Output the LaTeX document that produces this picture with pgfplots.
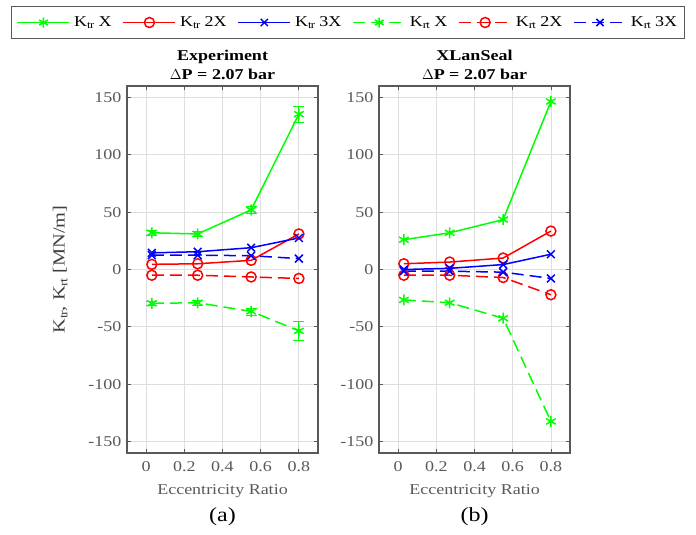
\documentclass[border=0pt]{standalone}
\usepackage{fontspec}
\setmainfont{Liberation Serif}[FakeStretch=1.2]
\usepackage{pgfplots}
\pgfplotsset{compat=1.18}
\definecolor{axgray}{gray}{0.35}
\definecolor{gridgray}{gray}{0.87}
\definecolor{mgreen}{rgb}{0,1,0}
\definecolor{mred}{rgb}{1,0,0}
\definecolor{mblue}{rgb}{0,0,1}
\pgfplotsset{
  mystyle/.style={
    scale only axis, width=191pt, height=367pt,
    xmin=-0.1, xmax=0.9, ymin=-160, ymax=160,
    xtick={0,0.2,0.4,0.6,0.8}, ytick={-150,-100,-50,0,50,100,150},
    grid=major, major grid style={gridgray, line width=0.8pt},
    axis line style={axgray, line width=1.3pt},
    tick style={axgray, line width=0.8pt}, tick align=inside, major tick length=4pt,
    /pgf/number format/assume math mode=true,
    ticklabel style={font=\fontsize{15}{17}\selectfont, text=axgray},
    xticklabel style={/pgf/number format/fixed, /pgf/number format/precision=1, yshift=-5pt},
    yticklabel style={xshift=-2pt},
    xlabel={Eccentricity Ratio},
    xlabel style={font=\fontsize{15}{17}\selectfont, text=axgray, at={(axis description cs:0.5,0)}, anchor=center, yshift=-38pt},
    title style={font=\bfseries\fontsize{15}{19}\selectfont, align=center, at={(axis description cs:0.5,1)}, anchor=south, inner sep=0pt, yshift=0pt},
    every axis plot/.append style={line width=1.5pt},
  },
  ktrX/.style={mgreen, solid, mark=asterisk, mark size=5.5pt, mark options={solid}},
  ktrB/.style={mred, solid, mark=o, mark size=5pt, mark options={solid}},
  ktrC/.style={mblue, solid, mark=x, mark size=5.5pt, mark options={solid}},
  krtX/.style={mgreen, dash pattern=on 12pt off 6pt, mark=asterisk, mark size=5.5pt, mark options={solid}},
  krtB/.style={mred, dash pattern=on 12pt off 6pt, mark=o, mark size=5pt, mark options={solid}},
  krtC/.style={mblue, dash pattern=on 12pt off 6pt, mark=x, mark size=5.5pt, mark options={solid}},
}
\begin{document}
\begin{tikzpicture}
\path[use as bounding box] (0pt,0pt) rectangle (696pt,535pt);
\begin{axis}[mystyle, name=ax1, at={(127pt,82pt)}, anchor=south west,
  title={Experiment\\$\Delta$P = 2.07 bar},
  ylabel={K$_\mathrm{tr}$, K$_\mathrm{rt}$ [MN/m]},
  ylabel style={font=\fontsize{17}{19}\selectfont, text=black!75, at={(axis description cs:-0.35,0.5)}, anchor=center},
  legend columns=6,
  legend style={at={(1.157,1.173)}, anchor=center, draw=axgray, line width=1.3pt,
    font=\fontsize{15}{17}\selectfont, inner xsep=5pt, inner ysep=8pt,
    /tikz/every odd column/.append style={column sep=2pt},
    /tikz/every even column/.append style={column sep=9pt}},
  legend image code/.code={\draw[mark repeat=2,mark phase=2] plot coordinates {(0pt,0pt) (26pt,0pt) (52pt,0pt)};},
  legend image post style={mark size=5pt},
]
\addplot[ktrX, error bars/.cd, y dir=both, y explicit, error bar style={solid, line width=1pt}] coordinates {(0.03,32) +- (0,2) (0.27,31) +- (0,2) (0.55,52) +- (0,3) (0.8,135.5) +- (0,7)};
\addlegendentry{K$_\mathrm{tr}$ X}
\addplot[ktrB] coordinates {(0.03,4.5) (0.27,5) (0.55,8) (0.8,31)};
\addlegendentry{K$_\mathrm{tr}$ 2X}
\addplot[ktrC] coordinates {(0.03,14.5) (0.27,15.5) (0.55,19) (0.8,27.5)};
\addlegendentry{K$_\mathrm{tr}$ 3X}
\addplot[krtX, error bars/.cd, y dir=both, y explicit, error bar style={solid, line width=1pt}] coordinates {(0.03,-29.5) +- (0,2) (0.27,-29) +- (0,2) (0.55,-36.5) +- (0,3) (0.8,-53.5) +- (0,8)};
\addlegendentry{K$_\mathrm{rt}$ X}
\addplot[krtB] coordinates {(0.03,-5) (0.27,-5) (0.55,-6.5) (0.8,-7.8)};
\addlegendentry{K$_\mathrm{rt}$ 2X}
\addplot[krtC] coordinates {(0.03,12.5) (0.27,12.5) (0.55,12) (0.8,9.5)};
\addlegendentry{K$_\mathrm{rt}$ 3X}
\end{axis}
\begin{axis}[mystyle, name=ax2, at={(379pt,82pt)}, anchor=south west,
  title={XLanSeal\\$\Delta$P = 2.07 bar},
]
\addplot[ktrX] coordinates {(0.03,26) (0.27,32) (0.55,43.5) (0.8,146.5)};
\addplot[ktrB] coordinates {(0.03,5) (0.27,6.5) (0.55,10) (0.8,33.5)};
\addplot[ktrC] coordinates {(0.03,0) (0.27,1) (0.55,4.3) (0.8,13.3)};
\addplot[krtX] coordinates {(0.03,-26.5) (0.27,-29) (0.55,-42.5) (0.8,-132.5)};
\addplot[krtB] coordinates {(0.03,-5) (0.27,-5) (0.55,-7) (0.8,-22)};
\addplot[krtC] coordinates {(0.03,-1.5) (0.27,-1.5) (0.55,-2.3) (0.8,-7.8)};
\end{axis}
\node[font=\fontsize{20}{22}\selectfont] at (ax1.south) [yshift=-64pt] {(a)};
\node[font=\fontsize{20}{22}\selectfont] at (ax2.south) [yshift=-64pt] {(b)};
\end{tikzpicture}
\end{document}
